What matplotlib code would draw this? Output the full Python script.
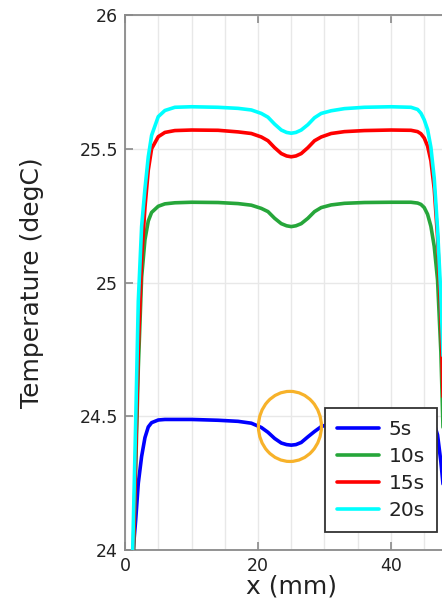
import matplotlib
matplotlib.use("Agg")
import matplotlib.pyplot as plt
from matplotlib.patches import Ellipse
from matplotlib.ticker import MultipleLocator, FixedLocator

# ---- data ----
x_mm = [0.0, 0.6, 1.0, 1.3, 1.6, 2.0, 2.5, 3.0, 3.5, 4.0, 5.0, 6.0, 7.5, 10.0,
        14.0, 17.0, 19.0, 20.5, 21.5, 22.5, 23.5, 24.3, 25.0, 25.7, 26.5, 27.5,
        28.5, 29.5, 31.0, 33.0, 36.0, 40.0, 43.0, 44.0, 44.5, 45.0, 45.5, 46.0,
        46.5, 47.0, 47.5, 48.0, 49.0, 50.0]

t_5s = [23.55, 23.78, 23.92, 24.02, 24.11, 24.25, 24.35, 24.42, 24.46, 24.476,
        24.486, 24.488, 24.488, 24.488, 24.485, 24.481, 24.474, 24.458, 24.440,
        24.417, 24.400, 24.394, 24.392, 24.394, 24.402, 24.423, 24.443, 24.461,
        24.474, 24.481, 24.486, 24.488, 24.487, 24.486, 24.485, 24.484, 24.483,
        24.480, 24.472, 24.43, 24.33, 24.20, 23.9, 23.55]

t_10s = [22.8, 23.3, 23.7, 24.0, 24.3, 24.68, 25.02, 25.16, 25.23, 25.262,
         25.285, 25.294, 25.298, 25.300, 25.299, 25.295, 25.289, 25.277, 25.265,
         25.240, 25.220, 25.212, 25.209, 25.212, 25.220, 25.240, 25.265, 25.280,
         25.290, 25.296, 25.299, 25.300, 25.300, 25.297, 25.292, 25.280, 25.255,
         25.210, 25.135, 25.010, 24.740, 24.30, 23.60, 22.90]

t_15s = [22.8, 23.35, 23.75, 24.05, 24.35, 24.75, 25.09, 25.28, 25.42, 25.50,
         25.545, 25.561, 25.568, 25.570, 25.569, 25.563, 25.557, 25.544, 25.530,
         25.504, 25.482, 25.473, 25.470, 25.473, 25.482, 25.504, 25.530, 25.544,
         25.557, 25.564, 25.568, 25.570, 25.569, 25.564, 25.556, 25.540, 25.510,
         25.455, 25.350, 25.170, 24.880, 24.400, 23.600, 22.900]

t_20s = [22.8, 23.4, 23.83, 24.15, 24.47, 24.93, 25.21, 25.35, 25.47, 25.55,
         25.62, 25.643, 25.655, 25.657, 25.655, 25.651, 25.645, 25.632, 25.618,
         25.592, 25.570, 25.561, 25.558, 25.561, 25.570, 25.590, 25.616, 25.632,
         25.642, 25.650, 25.655, 25.657, 25.655, 25.647, 25.633, 25.608, 25.572,
         25.505, 25.390, 25.200, 24.950, 24.600, 23.900, 23.200]

series_labels = ["5s", "10s", "15s", "20s"]
series_colors = ["#0000ff", "#26a63a", "#ff0000", "#00ffff"]
x_ticks = [0, 20, 40]
y_ticks = [24, 24.5, 25, 25.5, 26]
y_ticklabels = ["24", "24.5", "25", "25.5", "26"]

# ---- figure ----
fig = plt.figure(figsize=(4.42, 6.0), dpi=100)
ax = fig.add_axes([125 / 442, 50 / 600, 332.5 / 442, 535 / 600])

for ys, lab, col in zip([t_5s, t_10s, t_15s, t_20s], series_labels, series_colors):
    ax.plot(x_mm, ys, color=col, lw=2.6, label=lab, solid_capstyle="round",
            solid_joinstyle="round", zorder=3)

ax.set_xlim(0, 50)
ax.set_ylim(24, 26)
ax.xaxis.set_major_locator(FixedLocator(x_ticks))
ax.xaxis.set_minor_locator(MultipleLocator(5))
ax.set_yticks(y_ticks)
ax.set_yticklabels(y_ticklabels)

ax.grid(True, which="both", axis="x", color="#e8e8e8", lw=1.0, zorder=0)
ax.grid(True, which="major", axis="y", color="#e8e8e8", lw=1.0, zorder=0)
ax.set_axisbelow(True)

for s in ax.spines.values():
    s.set_color("#8a8a8a")
    s.set_linewidth(1.3)

ax.tick_params(which="major", direction="in", length=6, width=1.2,
               color="#8a8a8a", labelsize=12.5, pad=5, top=True, right=True,
               labelcolor="#222222")
ax.tick_params(which="minor", length=0)

ax.set_xlabel("x (mm)", fontsize=18, color="#222222")
ax.set_ylabel("Temperature (degC)", fontsize=18, color="#222222")
ax.xaxis.set_label_coords(0.5, -0.046)
ax.yaxis.set_label_coords(-0.245, 0.5)

ell = Ellipse((24.8, 24.462), 9.47, 0.262, fill=False, edgecolor="#f7b22a",
              lw=2.3, zorder=4)
ax.add_patch(ell)

leg = ax.legend(loc="upper left", bbox_to_anchor=(0.6015, 0.2654),
                borderaxespad=0, fancybox=False, framealpha=1,
                edgecolor="#333333", fontsize=14.5, handlelength=2.1,
                handletextpad=0.45, labelspacing=0.4, borderpad=0.6)
leg.get_frame().set_linewidth(1.3)
leg.set_zorder(5)
for t in leg.get_texts():
    t.set_color("#222222")

fig.savefig("out.png", dpi=100)
